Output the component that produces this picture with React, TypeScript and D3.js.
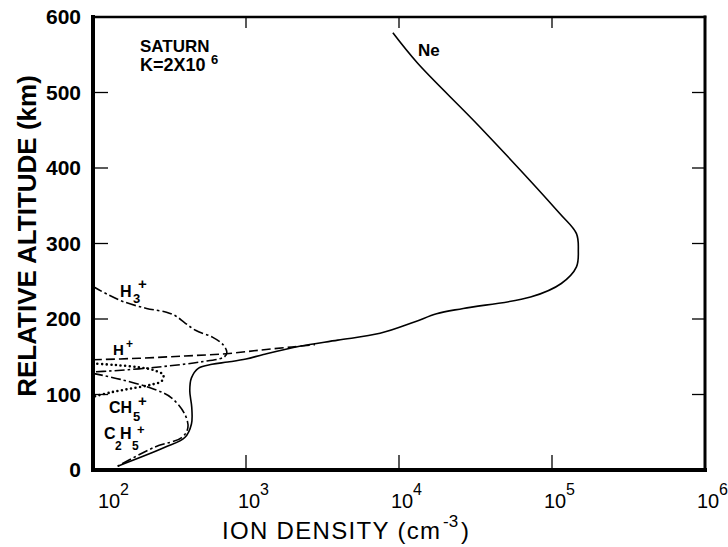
import React from "react";
import * as d3 from "d3";

// ion density profiles, Saturn, K = 2x10^6 (density cm^-3, altitude km)
const neDensity = [145, 295, 398, 440, 442, 429, 440, 490, 600, 760, 1000, 1300, 2240, 3980, 7520, 12600, 17600, 26300, 72400, 115000, 144500, 148600, 144500, 112000, 33900, 13200, 9120];
const neAltitude = [5, 30, 43, 61, 83, 105, 122, 135, 140, 143, 147, 153, 164, 172, 181, 196, 207, 214, 229, 247, 269, 291, 313, 340, 454, 539, 579];

const hDensity = [100, 200, 398, 741, 1260, 1995, 2820];
const hAltitude = [146, 148, 151, 154, 159, 163, 166];

const h3Density = [100, 126, 158, 224, 302, 347, 398, 468, 603, 708, 750, 724, 501, 316, 200, 126, 100];
const h3Altitude = [243, 232, 223, 214, 209, 204, 195, 185, 176, 166, 156, 150, 143, 138, 134, 131, 130];

const ch5Density = [100, 141, 200, 251, 288, 282, 240, 178, 132, 100];
const ch5Altitude = [141, 139, 136, 132, 126, 118, 113, 108, 103, 97];

const c2h5Density = [100, 151, 251, 324, 398, 417, 380, 251, 145];
const c2h5Altitude = [128, 120, 107, 96, 74, 56, 43, 30, 5];

const altTicks = [0, 100, 200, 300, 400, 500, 600];
const densityTicks = [1e2, 1e3, 1e4, 1e5, 1e6];
const densityExp = ["2", "3", "4", "5", "6"];

const W = 728;
const H = 547;
const M = {left: 93, right: 23, top: 17, bottom: 77};

const FONT = "'Liberation Sans', Arial, sans-serif";

type Pt = [number, number];
const zip = (xs: number[], ys: number[]): Pt[] => xs.map((v, i) => [v, ys[i]]);

export default function App() {
    const x = d3.scaleLog().domain([1e2, 1e6]).range([M.left, W - M.right]);
    const y = d3.scaleLinear().domain([0, 600]).range([H - M.bottom, M.top]);

    const line = d3.line<Pt>()
        .x(d => x(d[0]))
        .y(d => y(d[1]))
        .curve(d3.curveCatmullRom.alpha(0.5));

    const x0 = M.left, x1 = W - M.right, y0 = H - M.bottom, y1 = M.top;
    const innerTicks = densityTicks.slice(1, -1);
    const innerAlt = altTicks.slice(1, -1);

    return (
        <svg width={W} height={H} style={{position: "absolute", left: 0, top: 0, background: "#fff"}}
             fontFamily={FONT}>
            {/* frame */}
            <g stroke="#000" fill="none" strokeLinecap="square">
                <line x1={x0} y1={y1} x2={x1} y2={y1} strokeWidth={2.5}/>
                <line x1={x1} y1={y1} x2={x1} y2={y0} strokeWidth={3}/>
                <line x1={x0} y1={y0} x2={x1} y2={y0} strokeWidth={4}/>
                <line x1={x0} y1={y1} x2={x0} y2={y0} strokeWidth={4}/>
            </g>
            {/* ticks */}
            <g stroke="#000" strokeWidth={1.3}>
                {innerAlt.map(a => <line key={"l" + a} x1={x0} x2={x0 + 15} y1={y(a)} y2={y(a)}/>)}
                {innerAlt.map(a => <line key={"r" + a} x1={x1} x2={x1 - 13} y1={y(a)} y2={y(a)}/>)}
                {innerTicks.map(d => <line key={"b" + d} x1={x(d)} x2={x(d)} y1={y0} y2={y0 - 15}/>)}
                {innerTicks.map(d => <line key={"t" + d} x1={x(d)} x2={x(d)} y1={y1} y2={y1 + 11}/>)}
            </g>
            {/* y tick labels */}
            <g fontSize={21} fontWeight="bold" textAnchor="end">
                {altTicks.map(a => (
                    <text key={a} x={x0 - 12} y={y(a) + 7}>{a}</text>
                ))}
            </g>
            {/* x tick labels */}
            <g fontSize={20}>
                {densityTicks.map((d, i) => (
                    <g key={d}>
                        <text x={x(d) + (i === 0 ? 5 : -8)} y={y0 + 38}>10</text>
                        <text x={x(d) + (i === 0 ? 27 : 14)} y={y0 + 25} fontSize={16}>{densityExp[i]}</text>
                    </g>
                ))}
            </g>
            {/* axis titles */}
            <text transform={`translate(36,236) rotate(-90)`} textAnchor="middle"
                  fontSize={26} fontWeight="bold">RELATIVE ALTITUDE (km)</text>
            <g fontSize={24}>
                <text x={222} y={539} textLength={218} lengthAdjust="spacing">ION DENSITY (cm</text>
                <text x={443} y={527} fontSize={17}>-3</text>
                <text x={461} y={539}>)</text>
            </g>

            {/* profiles */}
            <g fill="none" stroke="#000">
                <path d={line(zip(neDensity, neAltitude)) ?? ""} strokeWidth={1.6}/>
                <path d={line(zip(hDensity, hAltitude)) ?? ""} strokeWidth={1.6} strokeDasharray="9,4"/>
                <path d={line(zip(h3Density, h3Altitude)) ?? ""} strokeWidth={1.6}
                      strokeDasharray="10,3,2.5,3"/>
                <path d={line(zip(c2h5Density, c2h5Altitude)) ?? ""} strokeWidth={1.6}
                      strokeDasharray="10,3,2.5,3"/>
                <path d={line(zip(ch5Density, ch5Altitude)) ?? ""} strokeWidth={2.6}
                      strokeLinecap="round" strokeDasharray="0,4.6"/>
            </g>

            {/* annotations */}
            <g fontWeight="bold">
                <text x={140} y={52} fontSize={17}>SATURN</text>
                <text x={140} y={71} fontSize={18}>K=2X10</text>
                <text x={211} y={64} fontSize={13}>6</text>

                <text x={418} y={56} fontSize={17}>Ne</text>

                <text x={120} y={297} fontSize={16}>H</text>
                <text x={133} y={303} fontSize={13}>3</text>
                <text x={138} y={289} fontSize={15}>+</text>

                <text x={113} y={355} fontSize={15}>H</text>
                <text x={126} y={348} fontSize={12}>+</text>

                <text x={109} y={413} fontSize={16}>CH</text>
                <text x={133} y={421} fontSize={13}>5</text>
                <text x={138} y={406} fontSize={15}>+</text>

                <text x={104} y={439} fontSize={16}>C</text>
                <text x={115} y={450} fontSize={12}>2</text>
                <text x={120} y={439} fontSize={16}>H</text>
                <text x={132} y={450} fontSize={12}>5</text>
                <text x={137} y={434} fontSize={13}>+</text>
            </g>
        </svg>
    );
}
